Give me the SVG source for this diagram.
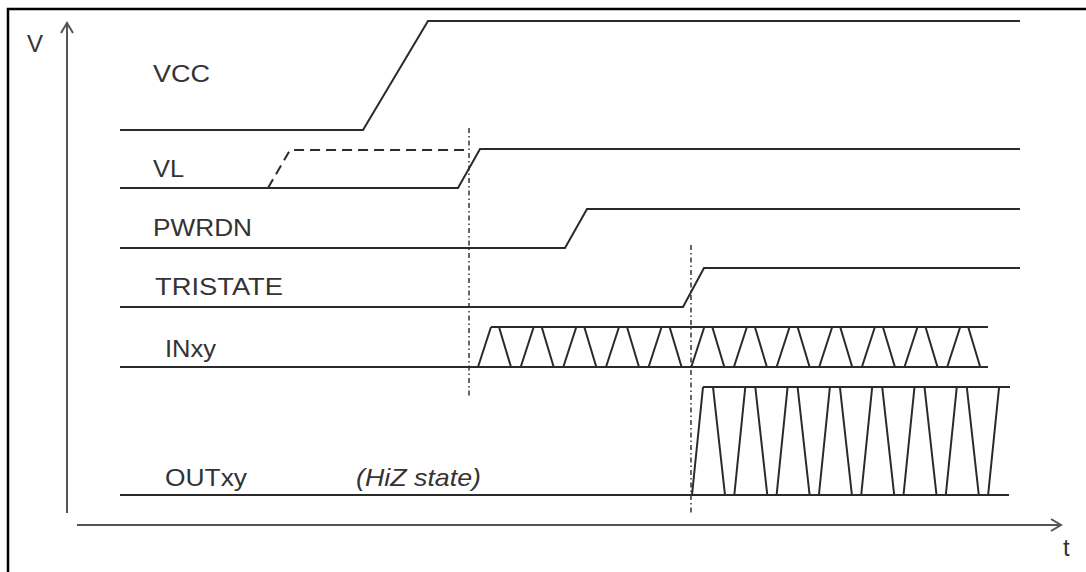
<svg xmlns="http://www.w3.org/2000/svg" width="1086" height="572" viewBox="0 0 1086 572">
<style>
.sig{fill:none;stroke:#2a2a2a;stroke-width:2;stroke-linejoin:miter}
.axis{fill:none;stroke:#555;stroke-width:2}
.dd{fill:none;stroke:#333;stroke-width:1.5;stroke-dasharray:5 3 1.5 3}
.lbl{font-family:"Liberation Sans",Arial,sans-serif;font-size:24px;fill:#333}
</style>
<defs>
<marker id="arr" viewBox="0 0 14 14" refX="12" refY="7" markerWidth="14" markerHeight="14" markerUnits="userSpaceOnUse" orient="auto">
<path d="M2,1 L12,7 L2,13" fill="none" stroke="#555" stroke-width="2"/>
</marker>
</defs>
<rect x="0" y="0" width="1086" height="572" fill="#fff"/>
<rect x="8" y="9" width="1100" height="600" fill="none" stroke="#000" stroke-width="2.5"/>
<g id="axes">
<line class="axis" x1="67" y1="513" x2="67" y2="23" marker-end="url(#arr)"/>
<line class="axis" x1="77" y1="525" x2="1061" y2="525" marker-end="url(#arr)"/>
<text class="lbl" x="27" y="52">V</text>
<text class="lbl" x="1063" y="556" font-size="22">t</text>
</g>
<g id="guides">
<line class="dd" x1="469" y1="128" x2="469" y2="397"/>
<line class="dd" x1="691" y1="245" x2="691" y2="515"/>
</g>
<g id="VCC">
<text class="lbl" x="153" y="82" textLength="57" lengthAdjust="spacingAndGlyphs">VCC</text>
<path class="sig" d="M120,130 L363,130 L428,21 L1020,21"/>
</g>
<g id="VL">
<text class="lbl" x="153" y="177" textLength="31" lengthAdjust="spacingAndGlyphs">VL</text>
<path class="sig" d="M120,188 L458,188 L480,149 L1020,149" stroke="#3a3a3a" stroke-width="2.5"/>
<path class="sig" d="M268,188 L290,150 L470,150" stroke-dasharray="10 6"/>
</g>
<g id="PWRDN">
<text class="lbl" x="153" y="236" textLength="99" lengthAdjust="spacingAndGlyphs">PWRDN</text>
<path class="sig" d="M120,248 L565,248 L587,209 L1020,209"/>
</g>
<g id="TRISTATE">
<text class="lbl" x="155" y="295" textLength="128" lengthAdjust="spacingAndGlyphs">TRISTATE</text>
<path class="sig" d="M120,307 L683,307 L704,268 L1020,268"/>
</g>
<g id="INxy">
<text class="lbl" x="165" y="357" textLength="51" lengthAdjust="spacingAndGlyphs">INxy</text>
<path class="sig" d="M120,367 L988,367 M491,327 L988,327
M478,367 L491,327 M499,327 L511,367
M520.7,367 L533.7,327 M541.7,327 L553.7,367
M563.3,367 L576.3,327 M584.3,327 L596.3,367
M606,367 L619,327 M627,327 L639,367
M648.6,367 L661.6,327 M669.6,327 L681.6,367
M691.3,367 L704.3,327 M712.3,327 L724.3,367
M733.9,367 L746.9,327 M754.9,327 L766.9,367
M776.6,367 L789.6,327 M797.6,327 L809.6,367
M819.2,367 L832.2,327 M840.2,327 L852.2,367
M861.9,367 L874.9,327 M882.9,327 L894.9,367
M904.5,367 L917.5,327 M925.5,327 L937.5,367
M947.2,367 L960.2,327 M968.2,327 L980.2,367"/>
</g>
<g id="OUTxy">
<text class="lbl" x="165" y="486" textLength="82" lengthAdjust="spacingAndGlyphs">OUTxy</text>
<text class="lbl" x="356" y="486" font-style="italic" textLength="125" lengthAdjust="spacingAndGlyphs">(HiZ state)</text>
<path class="sig" d="M120,495 L1009,495 M703,387 L1010,387
M692,495 L703,387 M713,387 L725,495
M734.3,495 L745.3,387 M755.3,387 L767.3,495
M776.6,495 L787.6,387 M797.6,387 L809.6,495
M818.9,495 L829.9,387 M839.9,387 L851.9,495
M861.2,495 L872.2,387 M882.2,387 L894.2,495
M903.5,495 L914.5,387 M924.5,387 L936.5,495
M945.8,495 L956.8,387 M966.8,387 L978.8,495
M988.1,495 L999.1,387"/>
</g>
</svg>
